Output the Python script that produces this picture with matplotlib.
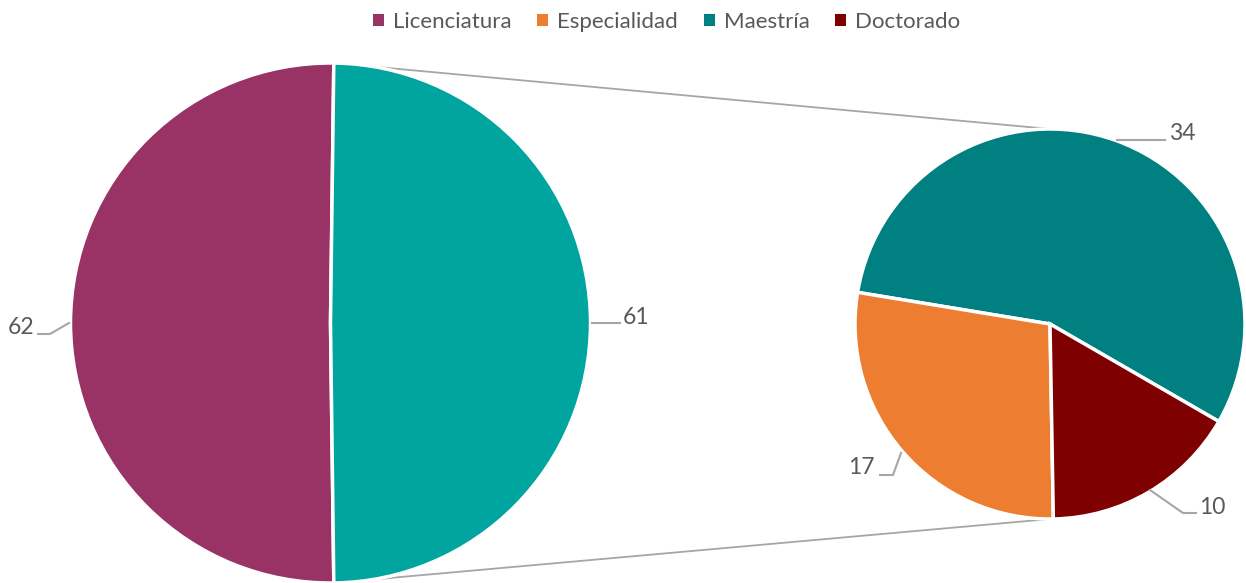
import matplotlib.pyplot as plt
from matplotlib.patches import Patch
import numpy as np

plt.rcParams['font.family'] = ['Lato', 'DejaVu Sans']

# datos
categorias = ["Licenciatura", "Especialidad", "Maestría", "Doctorado"]
valores = [62, 17, 34, 10]
colores = {"Licenciatura": "#993366", "Especialidad": "#ED7D31",
           "Maestría": "#008080", "Doctorado": "#7F0000"}
color_otros = "#00A59F"

# pie principal: Licenciatura vs. resto
lic = valores[0]
resto = sum(valores[1:])
# pie secundario (orden en que se dibuja, antihorario)
sec_cats = ["Maestría", "Especialidad", "Doctorado"]
sec_vals = [valores[categorias.index(c)] for c in sec_cats]

W, H = 1246, 583
fig = plt.figure(figsize=(W / 100, H / 100), dpi=100)
ax = fig.add_axes([0, 0, 1, 1])

c1, r1 = (330.5, H - 323), 260
c2, r2 = (1050, H - 324), 195
gris = "#A6A6A6"
txt = "#595959"

ang_resto = 360 * resto / (lic + resto)
ax.pie([lic, resto], colors=[colores["Licenciatura"], color_otros],
       startangle=ang_resto / 2, center=c1, radius=r1, counterclock=True,
       wedgeprops=dict(edgecolor='white', linewidth=2.5), frame=True)

ax.pie(sec_vals, colors=[colores[c] for c in sec_cats],
       startangle=-30, center=c2, radius=r2, counterclock=True,
       wedgeprops=dict(edgecolor='white', linewidth=2.5), frame=True)
ax.set_xlim(0, W)
ax.set_ylim(0, H)
ax.set_aspect('equal')
ax.axis('off')

# lineas de conexion
a = np.deg2rad(ang_resto / 2)
p_top = (c1[0] + r1 * np.cos(a), c1[1] + r1 * np.sin(a))
p_bot = (c1[0] + r1 * np.cos(a), c1[1] - r1 * np.sin(a))
ax.plot([p_top[0], c2[0]], [p_top[1], c2[1] + r2], color=gris, lw=1.3, zorder=0.5)
ax.plot([p_bot[0], c2[0]], [p_bot[1], c2[1] - r2], color=gris, lw=1.3, zorder=0.5)

# etiquetas con lineas guia
def etiqueta(texto, pts, tx, ty, ha):
    xs = [p[0] for p in pts]
    ys = [H - p[1] for p in pts]
    ax.plot(xs, ys, color=gris, lw=1.5, zorder=3)
    ax.text(tx, H - ty, texto, ha=ha, va='center', fontsize=16.5, color=txt)

etiqueta(str(lic), [(69, 323), (50, 334), (38, 334)], 34, 327, 'right')
etiqueta(str(resto), [(592, 323), (620, 323)], 623, 318, 'left')
etiqueta(str(sec_vals[0]), [(1117, 140), (1165, 140)], 1169, 133, 'left')
etiqueta(str(sec_vals[1]), [(901, 453), (893, 475), (880, 475)], 875, 467, 'right')
etiqueta(str(sec_vals[2]), [(1150, 490), (1183, 513), (1196, 513)], 1199, 507, 'left')

handles = [Patch(facecolor=colores[c], edgecolor='none', label=c) for c in categorias]
fig.legend(handles=handles, loc='upper center', bbox_to_anchor=(0.535, 1.014), ncol=4,
           frameon=False, fontsize=16, handlelength=0.5, handleheight=0.5,
           handletextpad=0.4, columnspacing=1.15, labelcolor=txt)

fig.savefig("out.png", dpi=100)
